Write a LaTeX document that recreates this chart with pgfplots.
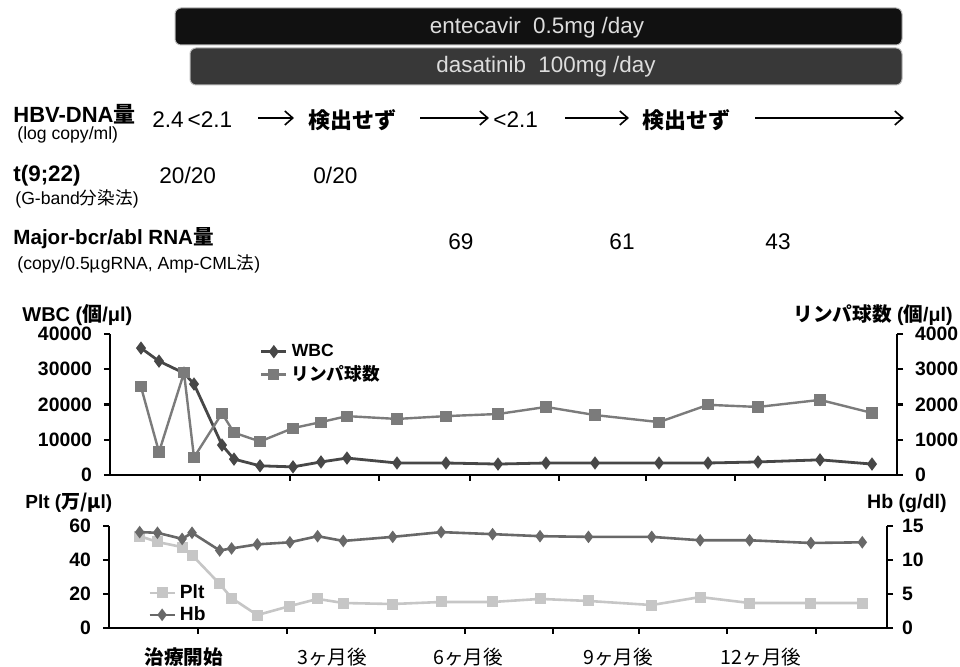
\documentclass[border=0pt]{standalone}
\usepackage{pgfplots}
\pgfplotsset{compat=1.18}
\usepackage{pgfplotstable}
\usepackage{fontspec}
\setmainfont{Liberation Sans}
\newfontfamily\jp{Noto Sans CJK JP}
\usetikzlibrary{arrows.meta}
\newcommand\fs[1]{\fontsize{#1}{#1}\selectfont}
\definecolor{cwbc}{HTML}{474747}
\definecolor{clym}{HTML}{7B7B7B}
\definecolor{chb}{HTML}{686868}
\definecolor{cplt}{HTML}{C6C6C6}
\definecolor{bar1}{HTML}{111111}
\definecolor{bar2}{HTML}{383838}
\definecolor{bartext}{HTML}{DDDDDD}

\pgfplotstableread{
x   wbc   lym  hb   plt
141 36000 2500 14.1 54.1
159 32300 650  14.0 50.6
184 28900 2900 13.1 47.6
194 25800 500  14.0 42.9
222 8500  1750 11.4 25.9
234 4500  1200 11.7 17.6
260 2600  950  12.3 7.6
293 2300  1330 12.6 12.9
321 3700  1500 13.5 17.1
347 4800  1670 12.8 14.7
397 3400  1590 13.4 14.1
446 3400  1670 14.1 15.3
498 3100  1730 13.8 15.3
546 3400  1930 13.5 17.1
595 3400  1700 13.4 15.9
659 3400  1500 13.4 13.5
708 3400  1990 12.9 18.2
758 3700  1930 12.9 14.7
820 4300  2130 12.5 14.7
872 3100  1760 12.6 14.7
}\data

\pgfplotsset{
  base/.style={
    scale only axis, xmin=110, xmax=897,
    axis line style={line width=1.3pt, black},
    tick style={line width=1.2pt, black},
    major tick length=3pt, tick align=outside,
    ticklabel style={font=\bfseries\fs{9.7}},
    scaled ticks=false,
    clip=false,
  },
  wbcstyle/.style={color=cwbc, line width=1.4pt, mark=diamond*, mark size=2.2pt, mark options={solid}},
  lymstyle/.style={color=clym, line width=1.2pt, mark=square*, mark size=2.2pt, mark options={solid}},
  hbstyle/.style={color=chb, line width=1.3pt, mark=diamond*, mark size=2.1pt, mark options={solid}},
  pltstyle/.style={color=cplt, line width=1.3pt, mark=square*, mark size=2.1pt, mark options={solid}},
  legend image code/.code={\draw[mark repeat=2,mark phase=2] plot coordinates {(0cm,0cm) (0.22cm,0cm) (0.44cm,0cm)};},
}

\begin{document}
\begin{tikzpicture}[x=0.5pt,y=0.5pt]
\useasboundingbox (0,0) rectangle (960,667);

% treatment bars
\draw[rounded corners=3pt, fill=bar1, draw=gray!55, line width=0.5pt] (175,659) rectangle (902,622);
\draw[rounded corners=3pt, fill=bar2, draw=gray!55, line width=0.5pt] (190,619) rectangle (902,582);
\node[text=bartext, font=\fs{11.2}] at (537,639) {entecavir\ \ 0.5mg /day};
\node[text=bartext, font=\fs{11.2}] at (546,600) {dasatinib\ \ 100mg /day};

% row labels
\node[anchor=west, inner sep=0, font=\bfseries\fs{11}] at (13,553) {HBV-DNA{\jp 量}};
\node[anchor=west, inner sep=0, font=\fs{8.8}] at (17,532) {(log copy/ml)};
\node[anchor=west, inner sep=0, font=\bfseries\fs{11.2}] at (13,491) {t(9;22)};
\node[anchor=west, inner sep=0, font=\fs{8.8}] at (15,468) {(G-band{\jp 分染法})};
\node[anchor=west, inner sep=0, font=\bfseries\fs{10.3}] at (13,429) {Major-bcr/abl RNA{\jp 量}};
\node[anchor=west, inner sep=0, font=\fs{8.8}] at (17,403) {(copy/0.5{\jp μ}gRNA, Amp-CML{\jp 法})};

% HBV row
\node[anchor=west, inner sep=0, font=\fs{11.3}] at (152,547) {2.4\,<2.1};
\node[inner sep=0, font=\jp\bfseries\fs{11}] at (352,547) {検出せず};
\node[anchor=west, inner sep=0, font=\fs{11.3}] at (493,547) {<2.1};
\node[inner sep=0, font=\jp\bfseries\fs{11}] at (686,547) {検出せず};
\draw[line width=0.8pt, -{Straight Barb[length=4pt,width=7pt,line width=0.8pt]}] (258,549) -- (294,549);
\draw[line width=0.8pt, -{Straight Barb[length=4pt,width=7pt,line width=0.8pt]}] (420,549) -- (489,549);
\draw[line width=0.8pt, -{Straight Barb[length=4pt,width=7pt,line width=0.8pt]}] (565,549) -- (629,549);
\draw[line width=0.8pt, -{Straight Barb[length=4pt,width=7pt,line width=0.8pt]}] (755,549) -- (904,549);

% t(9;22) and bcr/abl values
\node[anchor=west, inner sep=0, font=\fs{11.3}] at (159,492) {20/20};
\node[anchor=west, inner sep=0, font=\fs{11.3}] at (313,492) {0/20};
\node[inner sep=0, font=\fs{11.3}] at (461,425) {69};
\node[inner sep=0, font=\fs{11.3}] at (622,425) {61};
\node[inner sep=0, font=\fs{11.3}] at (778,425) {43};

% ---------- upper chart ----------
\begin{axis}[base, at={(55pt,96pt)}, anchor=south west,
  width=393.5pt, height=70.5pt,
  ymin=0, ymax=40000,
  axis x line*=bottom, axis y line*=left,
  xtick={200,290,379,470,559,646,735,825}, xticklabels={,,,,,,,,},
  ytick={0,10000,20000,30000,40000},
  yticklabels={0,10000,20000,30000,40000},
  yticklabel style={xshift=-2.5pt},
]
\addplot[wbcstyle] table[x=x,y=wbc]{\data};
\end{axis}
\begin{axis}[base, at={(55pt,96pt)}, anchor=south west,
  width=393.5pt, height=70.5pt,
  ymin=0, ymax=4000,
  axis x line=none, axis y line*=right,
  ytick={0,1000,2000,3000,4000},
  yticklabels={0,1000,2000,3000,4000},
  yticklabel style={xshift=2.5pt},
  legend style={draw=none, fill=none, at={(0.19,0.96)}, anchor=north west,
    font=\bfseries\fs{8.8}, row sep=-1pt, inner sep=0pt},
  legend cell align=left,
]
\addlegendimage{wbcstyle}
\addlegendentry{WBC}
\addplot[lymstyle] table[x=x,y=lym]{\data};
\addlegendentry{{\jp\bfseries リンパ球数}}
\end{axis}
\node[anchor=west, inner sep=0, font=\bfseries\fs{10}] at (22,352) {WBC ({\jp 個}/μl)};
\node[anchor=east, inner sep=0, font=\bfseries\fs{9.8}] at (953,352) {{\jp リンパ球数} ({\jp 個}/μl)};

% ---------- lower chart ----------
\begin{axis}[base, at={(54.5pt,19.5pt)}, anchor=south west,
  width=389pt, height=51pt,
  ymin=0, ymax=60,
  axis x line*=bottom, axis y line*=left,
  xtick={200,290,379,470,559,646,735,825}, xticklabels={,,,,,,,,},
  ytick={0,20,40,60},
  yticklabels={0,20,40,60},
  yticklabel style={xshift=-2.5pt},
]
\addplot[pltstyle] table[x=x,y=plt]{\data};
\end{axis}
\begin{axis}[base, at={(54.5pt,19.5pt)}, anchor=south west,
  width=389pt, height=51pt,
  ymin=0, ymax=15,
  axis x line=none, axis y line*=right,
  ytick={0,5,10,15},
  yticklabels={0,5,10,15},
  yticklabel style={xshift=1pt},
  legend style={draw=none, fill=none, at={(0.05,0.47)}, anchor=north west,
    font=\bfseries\fs{9.6}, row sep=-1.5pt, inner sep=0pt},
  legend cell align=left,
]
\addlegendimage{pltstyle}
\addlegendentry{Plt}
\addplot[hbstyle] table[x=x,y=hb]{\data};
\addlegendentry{Hb}
\end{axis}
\node[anchor=west, inner sep=0, font=\bfseries\fs{9.5}] at (25,164) {Plt ({\jp 万/μ}l)};
\node[anchor=east, inner sep=0, font=\bfseries\fs{9.8}] at (947,164) {Hb (g/dl)};

% x category labels
\node[inner sep=0, font=\jp\bfseries\fs{9.8}] at (184,10) {治療開始};
\node[inner sep=0, font=\jp\fs{9.8}] at (332,10) {3ヶ月後};
\node[inner sep=0, font=\jp\fs{9.8}] at (468,10) {6ヶ月後};
\node[inner sep=0, font=\jp\fs{9.8}] at (618,10) {9ヶ月後};
\node[inner sep=0, font=\jp\fs{9.8}] at (761,10) {12ヶ月後};
\end{tikzpicture}
\end{document}
